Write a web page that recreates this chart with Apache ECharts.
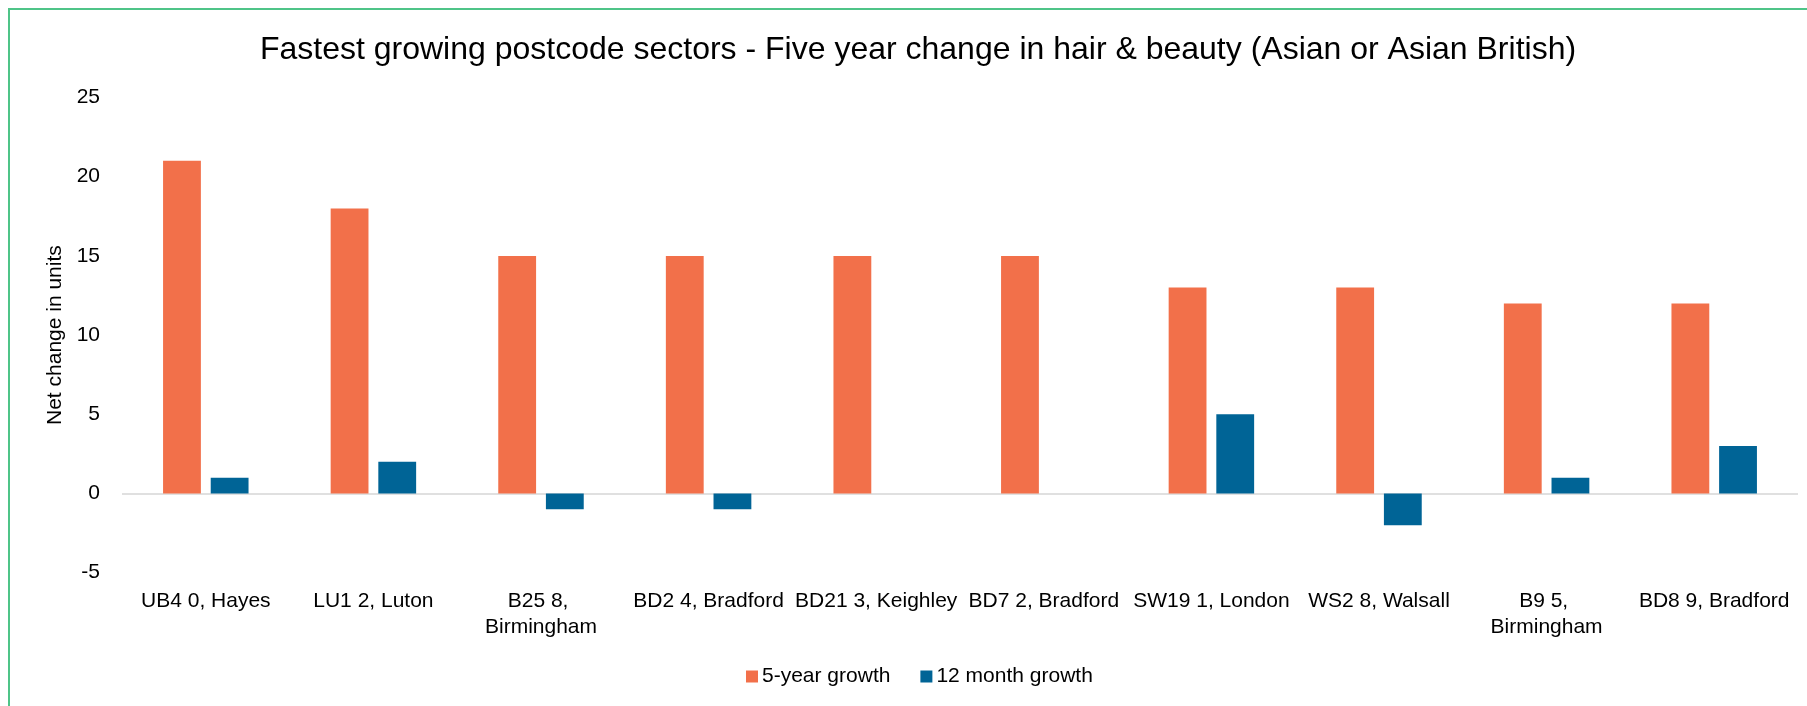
<!DOCTYPE html>
<html>
<head>
<meta charset="utf-8">
<title>Fastest growing postcode sectors</title>
<script src="https://cdn.jsdelivr.net/npm/echarts@6/dist/echarts.min.js"></script>
<style>
  html, body { margin: 0; padding: 0; background: #ffffff; }
  #chart { width: 1807px; height: 706px; }
</style>
</head>
<body>
<div id="chart"></div>
<script>
// Postcode sectors, ranked by five-year growth
const sectors = [
  'UB4 0, Hayes', 'LU1 2, Luton', 'B25 8, Birmingham', 'BD2 4, Bradford',
  'BD21 3, Keighley', 'BD7 2, Bradford', 'SW19 1, London', 'WS2 8, Walsall',
  'B9 5, Birmingham', 'BD8 9, Bradford'
];
// Net change in units over five years
const fiveYearGrowth = [21, 18, 15, 15, 15, 15, 13, 13, 12, 12];
// Net change in units over the last twelve months
const twelveMonthGrowth = [1, 2, -1, -1, 0, 0, 5, -2, 1, 3];
// Value axis
const yMin = -5;
const yMax = 25;
const yStep = 5;

const FONT = "'Liberation Sans', Arial, Helvetica, sans-serif";
const chart = echarts.init(document.getElementById('chart'), null, { renderer: 'canvas' });

chart.setOption({
  backgroundColor: '#ffffff',
  animation: false,
  textStyle: { fontFamily: FONT },
  graphic: [{
    type: 'rect',
    shape: { x: 9, y: 9, width: 1840, height: 720 },
    style: { fill: 'none', stroke: '#4fc488', lineWidth: 2 },
    silent: true,
    z: 100
  }],
  title: {
    text: 'Fastest growing postcode sectors - Five year change in hair & beauty (Asian or Asian British)',
    left: 918,
    top: 34,
    padding: 0,
    textAlign: 'center',
    textStyle: { fontFamily: FONT, fontSize: 32, fontWeight: 'normal', color: '#000000' }
  },
  legend: {
    left: 741,
    top: 661,
    itemWidth: 12,
    itemHeight: 12,
    itemGap: 30,
    icon: 'rect',
    textStyle: { fontFamily: FONT, fontSize: 21, color: '#000000', padding: [0, 0, 0, -1] },
    data: ['5-year growth', '12 month growth']
  },
  grid: { left: 122, right: 9, top: 97.5, bottom: 133.3, containLabel: false },
  xAxis: {
    type: 'category',
    data: sectors,
    axisLine: { show: false, onZero: false },
    axisTick: { show: false },
    splitLine: { show: false },
    axisLabel: {
      interval: 0,
      margin: 16,
      width: 165,
      overflow: 'break',
      lineHeight: 26,
      fontFamily: FONT,
      fontSize: 21,
      color: '#000000'
    }
  },
  yAxis: {
    type: 'value',
    min: yMin,
    max: yMax,
    interval: yStep,
    name: 'Net change in units',
    nameLocation: 'middle',
    nameRotate: 90,
    nameGap: 56,
    nameTextStyle: { fontFamily: FONT, fontSize: 21, color: '#000000' },
    axisLine: { show: false },
    axisTick: { show: false },
    splitLine: { show: false },
    axisLabel: { margin: 22, fontFamily: FONT, fontSize: 21, color: '#000000' }
  },
  series: [
    {
      name: '5-year growth',
      type: 'bar',
      data: fiveYearGrowth,
      barGap: '26%',
      barCategoryGap: '49%',
      itemStyle: { color: '#f2704a' },
      markLine: {
        silent: true,
        symbol: 'none',
        label: { show: false },
        lineStyle: { color: '#e0e0e0', width: 2, type: 'solid' },
        data: [{ yAxis: 0 }],
        z: 1
      }
    },
    {
      name: '12 month growth',
      type: 'bar',
      data: twelveMonthGrowth,
      itemStyle: { color: '#006496' }
    }
  ]
});
</script>
</body>
</html>
